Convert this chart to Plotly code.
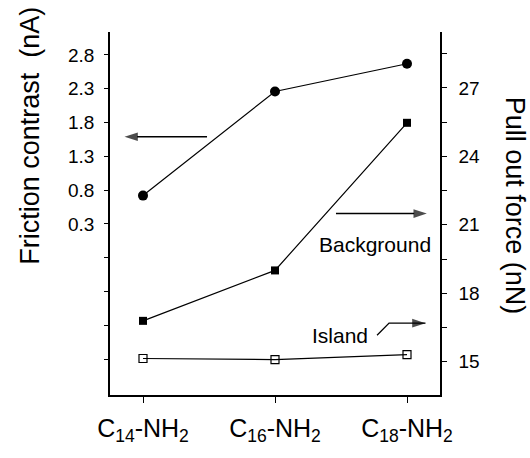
import plotly.graph_objects as go

categories = ["C<sub>14</sub>-NH<sub>2</sub>", "C<sub>16</sub>-NH<sub>2</sub>", "C<sub>18</sub>-NH<sub>2</sub>"]
friction = [0.72, 2.26, 2.67]          # nA, left axis
pull_background = [16.79, 19.0, 25.47]  # nN, right axis
pull_island = [15.14, 15.09, 15.31]     # nN, right axis

left_ticks = [0.3, 0.8, 1.3, 1.8, 2.3, 2.8]
left_minor = [-1.7, -1.2, -0.7, -0.2]
right_ticks = [15, 18, 21, 24, 27]
right_minor = [16.5, 19.5, 22.5, 25.5, 28.5]

xpos = list(range(len(categories)))
FONT = "Liberation Sans, Arial, sans-serif"
BLACK = "#000"

fig = go.Figure()
fig.add_trace(go.Scatter(x=xpos, y=friction, mode="lines+markers",
                         line=dict(color=BLACK, width=1.2),
                         marker=dict(symbol="circle", size=10, color=BLACK),
                         xaxis="x", yaxis="y", showlegend=False))
fig.add_trace(go.Scatter(x=xpos, y=pull_background, mode="lines+markers",
                         line=dict(color=BLACK, width=1.2),
                         marker=dict(symbol="square", size=8, color=BLACK),
                         xaxis="x", yaxis="y2", showlegend=False))
fig.add_trace(go.Scatter(x=xpos, y=pull_island, mode="lines+markers",
                         line=dict(color=BLACK, width=1.2),
                         marker=dict(symbol="square-open", size=8, color=BLACK,
                                     line=dict(width=1.2, color=BLACK)),
                         xaxis="x", yaxis="y2", showlegend=False))

# arrows drawn as lines with an arrow marker at the end
def arrow(xs, ys, yaxis, width=1.5):
    sizes = [0] * (len(xs) - 1) + [14]
    fig.add_trace(go.Scatter(x=xs, y=ys, mode="lines+markers", xaxis="x", yaxis=yaxis,
                             line=dict(color=BLACK, width=width),
                             marker=dict(symbol="arrow", angleref="previous",
                                         size=sizes, color=BLACK,
                                         line=dict(width=0)),
                             hoverinfo="skip", showlegend=False))

arrow([0.485, -0.14], [1.59, 1.59], "y")
arrow([1.462, 2.15], [21.49, 21.49], "y2")
arrow([1.773, 1.864, 2.14], [16.16, 16.69, 16.69], "y2", width=1.3)

xr = [-0.25, 2.25]
tick_common = dict(tickwidth=1.2, tickcolor=BLACK, showline=True, linecolor=BLACK,
                   linewidth=1.5, showgrid=False, zeroline=False)
fig.update_layout(
    width=530, height=458,
    margin=dict(l=110, r=90, t=32, b=38),
    paper_bgcolor="white", plot_bgcolor="white",
    font=dict(family=FONT, color=BLACK, size=19),
    xaxis=dict(range=xr, tickvals=xpos, ticktext=categories, ticks="outside",
               ticklen=6, tickfont=dict(size=25), ticklabelstandoff=4, **tick_common),
    xaxis2=dict(range=xr, overlaying="x", side="top", tickvals=[0, 0.5, 1, 1.5, 2],
                ticks="inside", ticklen=4, showticklabels=False, **tick_common),
    yaxis=dict(range=[-2.23, 3.14], tickvals=left_ticks, ticks="outside", ticklen=4,
               tickformat=".1f", tickfont=dict(size=19), ticklabelstandoff=6,
               minor=dict(tickvals=left_minor, ticks="outside", ticklen=4,
                          tickwidth=1.2, tickcolor=BLACK, showgrid=False),
               **tick_common),
    yaxis2=dict(range=[13.54, 29.45], tickvals=right_ticks, overlaying="y",
                side="right", ticks="outside", ticklen=5, tickfont=dict(size=19),
                ticklabelstandoff=8,
                minor=dict(tickvals=right_minor, ticks="outside", ticklen=5,
                           tickwidth=1.2, tickcolor=BLACK, showgrid=False),
                **tick_common),
)

# axis titles
fig.add_annotation(text="Friction contrast\u00a0 (nA)", xref="paper", yref="paper",
                   x=-0.2424, y=0.714, textangle=-90, showarrow=False,
                   font=dict(size=27), xanchor="center", yanchor="middle")
fig.add_annotation(text="Pull out force (nN)", xref="paper", yref="paper",
                   x=1.228, y=0.5206, textangle=90, showarrow=False,
                   font=dict(size=27), xanchor="center", yanchor="middle")

fig.add_annotation(text="Background", x=1.754, y=20.14, xref="x", yref="y2",
                   showarrow=False, font=dict(size=21))
fig.add_annotation(text="Island", x=1.492, y=16.16, xref="x", yref="y2",
                   showarrow=False, font=dict(size=21))

fig.write_html("out.html")
